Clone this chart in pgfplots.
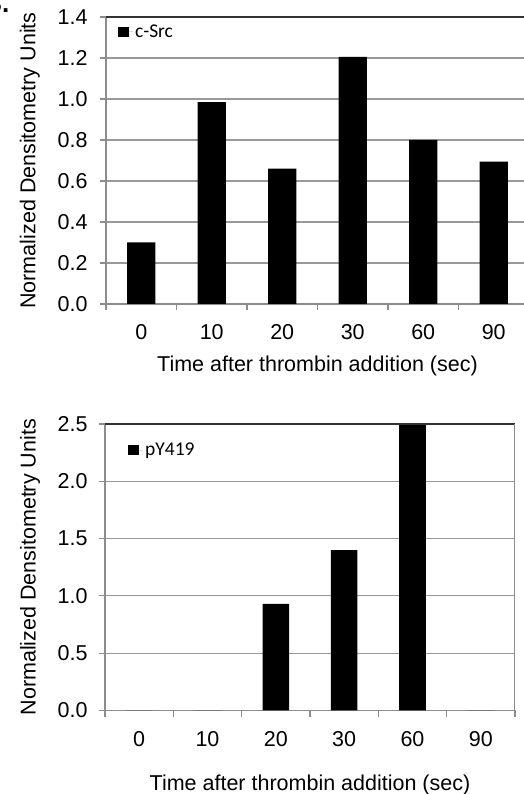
\documentclass[border=0pt]{standalone}
\usepackage{pgfplots}
\pgfplotsset{compat=1.18}
\usepackage{fontspec}
\setmainfont{Liberation Sans}
\newfontfamily\carlito{Carlito}

\definecolor{gridgray}{gray}{0.6}
\definecolor{axgray}{gray}{0.55}
\definecolor{topline}{gray}{0.2}

\pgfplotsset{
  densbar/.style={
    scale only axis,
    ybar, bar width=0.4,
    xmin=-0.5, xmax=5.5, ymin=0,
    axis x line*=bottom, axis y line*=left,
    x axis line style={axgray, line width=1.2pt},
    y axis line style={axgray, line width=1.2pt},
    tick align=outside,
    xtick={0,1,2,3,4,5},
    xticklabels={0,10,20,30,60,90},
    minor xtick={-0.5,0.5,1.5,2.5,3.5,4.5,5.5},
    major x tick style={draw=none},
    minor x tick style={axgray, line width=1.2pt},
    ytick style={axgray, line width=1.2pt},
    major tick length=6pt, minor tick length=6pt,
    ymajorgrids,
    grid style={gridgray, line width=1.2pt},
    tick label style={font=\fontsize{21.5}{25}\selectfont},
    label style={font=\fontsize{21.5}{25}\selectfont, inner sep=0pt},
    /pgf/number format/assume math mode=true,
    yticklabel style={/pgf/number format/fixed, /pgf/number format/fixed zerofill,
      /pgf/number format/precision=1},
    xticklabel style={yshift=-11pt},
    ylabel={Normalized Densitometry Units},
    xlabel={Time after thrombin addition (sec)},
    legend style={draw=none, fill=none, inner sep=0pt, anchor=west,
      font=\carlito\fontsize{19.5}{22}\selectfont},
    legend image code/.code={\fill[black] (0pt,-5pt) rectangle (11pt,5pt); \path (0pt,0pt) -- (15pt,0pt);},
  }
}

\begin{document}
\begin{tikzpicture}
\useasboundingbox (0,0) rectangle (523pt,794pt);
\node[anchor=base east, font=\bfseries\fontsize{26}{30}\selectfont] at (13pt,781pt) {B.};

% top panel: c-Src
\begin{axis}[densbar,
  at={(106pt,490pt)}, anchor=south west,
  width=423pt, height=287pt,
  ymax=1.4, ytick={0,0.2,...,1.4},
  yticklabel style={xshift=-9pt},
  ylabel style={at={(axis description cs:-0.18,0.5)}, anchor=center, rotate=0},
  xlabel style={at={(axis description cs:0.5,0)}, anchor=north, yshift=-52pt},
  legend style={at={(axis description cs:0.028,0.948)}},
]
\addplot[fill=black, draw=none] coordinates {(0,0.30) (1,0.985) (2,0.66) (3,1.205) (4,0.80) (5,0.695)};
\addlegendentry{c-Src}
\draw[topline, line width=1.6pt] (rel axis cs:0,1) -- (rel axis cs:1,1);
\end{axis}

% bottom panel: pY419
\begin{axis}[densbar,
  at={(105pt,83.5pt)}, anchor=south west,
  width=410pt, height=286.5pt,
  bar width=0.39,
  ymax=2.5, ytick={0,0.5,...,2.5},
  yticklabel style={xshift=-8pt},
  ylabel style={at={(axis description cs:-0.183,0.5)}, anchor=center, rotate=0},
  xlabel style={at={(axis description cs:0.5,0)}, anchor=north, yshift=-64pt},
  legend style={at={(axis description cs:0.056,0.909)}},
]
\addplot[fill=black, draw=none] coordinates {(0,0) (1,0) (2,0.93) (3,1.40) (4,2.50) (5,0)};
\addlegendentry{pY419}
\draw[topline, line width=1.6pt] (rel axis cs:0,1) -- (rel axis cs:1,1);
\draw[axgray, line width=1.2pt] (rel axis cs:1,0) -- (rel axis cs:1,1);
\end{axis}
\end{tikzpicture}
\end{document}
